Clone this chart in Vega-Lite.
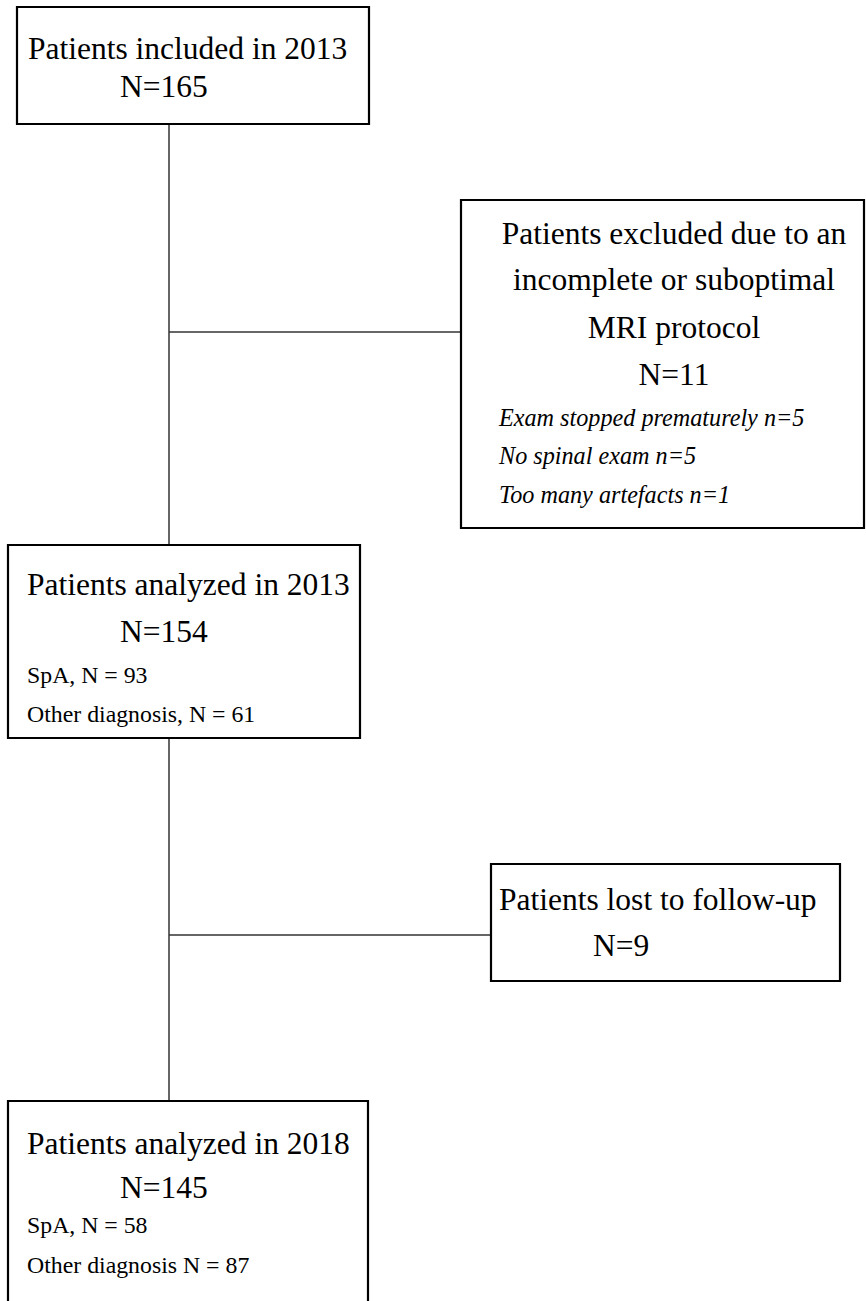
{
  "$schema": "https://vega.github.io/schema/vega-lite/v6.json",
  "width": 866,
  "height": 1301,
  "padding": 0,
  "autosize": {"type": "fit", "contains": "padding"},
  "background": "white",
  "config": {"view": {"stroke": null}},
  "datasets": {
    "boxes": [
      {"box": "included", "x1": 17, "x2": 369, "y1": 7, "y2": 124},
      {"box": "excluded", "x1": 461, "x2": 864, "y1": 200, "y2": 528},
      {"box": "analyzed2013", "x1": 8, "x2": 360, "y1": 545, "y2": 738},
      {"box": "lost", "x1": 491, "x2": 840, "y1": 864, "y2": 981},
      {"box": "analyzed2018", "x1": 8, "x2": 368, "y1": 1101, "y2": 1320}
    ],
    "links": [
      {"x1": 169, "x2": 169, "y1": 124, "y2": 545},
      {"x1": 169, "x2": 461, "y1": 332, "y2": 332},
      {"x1": 169, "x2": 169, "y1": 738, "y2": 1101},
      {"x1": 169, "x2": 491, "y1": 935, "y2": 935}
    ],
    "labels": [
      {"role": "title", "x": 28, "y": 59, "text": "Patients included in 2013"},
      {"role": "title", "x": 120, "y": 97, "text": "N=165"},
      {"role": "titleCenter", "x": 674, "y": 244, "text": "Patients excluded due to an"},
      {"role": "titleCenter", "x": 674, "y": 290, "text": "incomplete or suboptimal"},
      {"role": "titleCenter", "x": 674, "y": 338, "text": "MRI protocol"},
      {"role": "titleCenter", "x": 674, "y": 385, "text": "N=11"},
      {"role": "italic", "x": 499, "y": 426, "text": "Exam stopped prematurely n=5"},
      {"role": "italic", "x": 499, "y": 464, "text": "No spinal exam n=5"},
      {"role": "italic", "x": 499, "y": 503, "text": "Too many artefacts n=1"},
      {"role": "title", "x": 27, "y": 595, "text": "Patients analyzed in 2013"},
      {"role": "title", "x": 120, "y": 642, "text": "N=154"},
      {"role": "detail", "x": 27, "y": 683, "text": "SpA, N = 93"},
      {"role": "detail", "x": 27, "y": 722, "text": "Other diagnosis, N = 61"},
      {"role": "title", "x": 499, "y": 910, "text": "Patients lost to follow-up"},
      {"role": "title", "x": 593, "y": 956, "text": "N=9"},
      {"role": "title", "x": 27, "y": 1154, "text": "Patients analyzed in 2018"},
      {"role": "title", "x": 120, "y": 1198, "text": "N=145"},
      {"role": "detail", "x": 27, "y": 1233, "text": "SpA, N = 58"},
      {"role": "detail", "x": 27, "y": 1273, "text": "Other diagnosis N = 87"}
    ]
  },
  "layer": [
    {
      "data": {"name": "links"},
      "mark": {"type": "rule", "color": "#333333", "strokeWidth": 1.5},
      "encoding": {
        "x": {"field": "x1", "type": "quantitative", "scale": {"domain": [0, 866]}, "axis": null},
        "x2": {"field": "x2"},
        "y": {"field": "y1", "type": "quantitative", "scale": {"domain": [0, 1301], "reverse": true}, "axis": null},
        "y2": {"field": "y2"}
      }
    },
    {
      "data": {"name": "boxes"},
      "mark": {"type": "rect", "fill": "white", "stroke": "black", "strokeWidth": 2.2, "clip": true},
      "encoding": {
        "x": {"field": "x1", "type": "quantitative", "scale": {"domain": [0, 866]}, "axis": null},
        "x2": {"field": "x2"},
        "y": {"field": "y1", "type": "quantitative", "scale": {"domain": [0, 1301], "reverse": true}, "axis": null},
        "y2": {"field": "y2"}
      }
    },
    {
      "data": {"name": "labels"},
      "transform": [{"filter": "datum.role === 'title'"}],
      "mark": {"type": "text", "font": "Liberation Serif", "fontSize": 31.5, "align": "left", "baseline": "alphabetic", "color": "black"},
      "encoding": {
        "x": {"field": "x", "type": "quantitative", "scale": {"domain": [0, 866]}, "axis": null},
        "y": {"field": "y", "type": "quantitative", "scale": {"domain": [0, 1301], "reverse": true}, "axis": null},
        "text": {"field": "text"}
      }
    },
    {
      "data": {"name": "labels"},
      "transform": [{"filter": "datum.role === 'titleCenter'"}],
      "mark": {"type": "text", "font": "Liberation Serif", "fontSize": 31.5, "align": "center", "baseline": "alphabetic", "color": "black"},
      "encoding": {
        "x": {"field": "x", "type": "quantitative", "scale": {"domain": [0, 866]}, "axis": null},
        "y": {"field": "y", "type": "quantitative", "scale": {"domain": [0, 1301], "reverse": true}, "axis": null},
        "text": {"field": "text"}
      }
    },
    {
      "data": {"name": "labels"},
      "transform": [{"filter": "datum.role === 'italic'"}],
      "mark": {"type": "text", "font": "Liberation Serif", "fontSize": 24.2, "fontStyle": "italic", "align": "left", "baseline": "alphabetic", "color": "black"},
      "encoding": {
        "x": {"field": "x", "type": "quantitative", "scale": {"domain": [0, 866]}, "axis": null},
        "y": {"field": "y", "type": "quantitative", "scale": {"domain": [0, 1301], "reverse": true}, "axis": null},
        "text": {"field": "text"}
      }
    },
    {
      "data": {"name": "labels"},
      "transform": [{"filter": "datum.role === 'detail'"}],
      "mark": {"type": "text", "font": "Liberation Serif", "fontSize": 23.8, "align": "left", "baseline": "alphabetic", "color": "black"},
      "encoding": {
        "x": {"field": "x", "type": "quantitative", "scale": {"domain": [0, 866]}, "axis": null},
        "y": {"field": "y", "type": "quantitative", "scale": {"domain": [0, 1301], "reverse": true}, "axis": null},
        "text": {"field": "text"}
      }
    }
  ]
}
